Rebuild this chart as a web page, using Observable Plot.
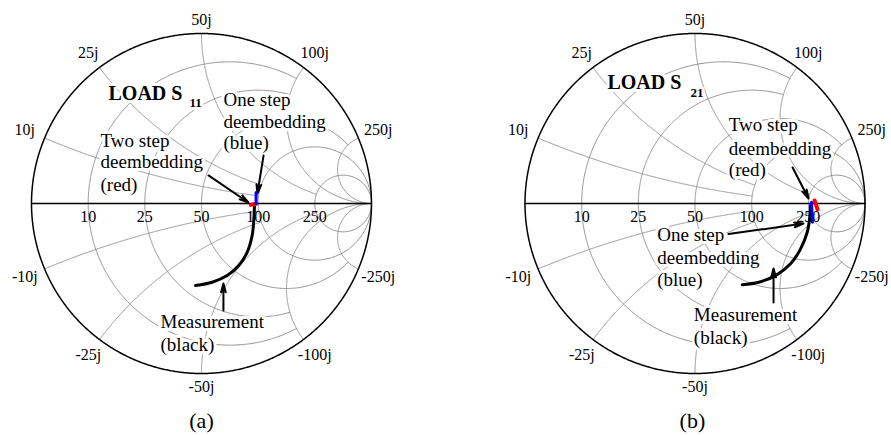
<!DOCTYPE html>
<html><head><meta charset="utf-8">
<script src="https://cdn.jsdelivr.net/npm/d3@7"></script>
<script src="https://cdn.jsdelivr.net/npm/@observablehq/plot@0.6"></script>
<style>body{margin:0;background:#fff}#chart{width:891px;height:435px}</style>
</head><body><div id="chart"></div>
<script>
// ---------- data ----------
const Z0 = 50;
const resistanceTicks = [10, 25, 50, 100, 250];          // ohms
const reactanceTicks = [10, 25, 50, 100, 250];           // ohms (±j)
const rCircleMaxX = [2, 2, 5, Infinity, Infinity];       // normalized |x| limit of each r circle
const xArcMaxR = [2, 2, 5, Infinity, Infinity];          // normalized r limit of each x arc
const panelLabels = ["(a)", "(b)"];
const titleMain = ["LOAD S", "LOAD S"];
const titleSub = ["11", "21"];

// reflection coefficient (re, im)
const measA_re = [0.312, 0.308, 0.298, 0.269, 0.219, 0.151, 0.063, -0.035];
const measA_im = [-0.006, -0.090, -0.188, -0.286, -0.365, -0.424, -0.463, -0.482];
const oneA_re = [0.321, 0.321];
const oneA_im = [0.065, 0.000];
const twoA_re = [0.290, 0.322];
const twoA_im = [-0.008, -0.002];

const measB_re = [0.679, 0.674, 0.660, 0.621, 0.562, 0.474, 0.375, 0.278];
const measB_im = [-0.012, -0.090, -0.169, -0.267, -0.355, -0.424, -0.463, -0.478];
const oneB_re = [0.685, 0.691];
const oneB_im = [0.008, -0.110];
const twoB_re = [0.703, 0.721];
const twoB_im = [0.018, -0.035];

// ---------- layout ----------
const W = 891, H = 435, R = 170, cxA = 201, cxB = 694.5, cy = 203;
const off = {a: 0, b: (cxB - cxA) / R};
const FONT = "'Liberation Serif', 'Times New Roman', serif";

// Smith chart grid geometry
function gamma(r, x) {
  const d = (r + 1) ** 2 + x * x;
  return [(r * r + x * x - 1) / d, (2 * x) / d];
}
const grid = [];
const frame = [];
for (const chart of ["a", "b"]) {
  resistanceTicks.forEach((R0, i) => {
    const r = R0 / Z0, um = Math.atan(rCircleMaxX[i]), N = 600;
    for (let k = 0; k <= N; k++) {
      const u = -um + (2 * um * k) / N;
      const [gr, gi] = gamma(r, Math.tan(u));
      grid.push({chart, id: chart + "r" + i, gr, gi});
    }
  });
  reactanceTicks.forEach((X0, i) => {
    const x = X0 / Z0, um = Math.atan(xArcMaxR[i]), N = 600;
    for (const s of [1, -1]) {
      for (let k = 0; k <= N; k++) {
        const u = (um * k) / N;
        const [gr, gi] = gamma(Math.tan(u), s * x);
        grid.push({chart, id: chart + "x" + i + s, gr, gi});
      }
    }
  });
  for (let k = 0; k <= 1000; k++) {
    const u = -Math.PI / 2 + (Math.PI * k) / 1000;
    const [gr, gi] = gamma(0, Math.tan(u));
    frame.push({chart, id: chart + "o", gr, gi});
  }
  frame.push({chart, id: chart + "axis", gr: -1, gi: 0}, {chart, id: chart + "axis", gr: 1, gi: 0});
}

// tick labels
const tickText = [];
for (const chart of ["a", "b"]) {
  resistanceTicks.forEach((R0) => {
    const r = R0 / Z0;
    tickText.push({chart, gr: (r - 1) / (r + 1), gi: -18 / R, text: String(R0), anchor: "bottom"});
  });
  reactanceTicks.forEach((X0) => {
    const x = X0 / Z0;
    for (const s of [1, -1]) {
      const [er, ei] = gamma(0, s * x);
      const phi = Math.atan2(ei, er);
      const rho = 1.08 + 0.05 * Math.abs(Math.cos(phi));
      tickText.push({chart, gr: rho * Math.cos(phi), gi: rho * Math.sin(phi), text: (s < 0 ? "-" : "") + X0 + "j", anchor: "middle"});
    }
  });
}

// curves
function series(chart, re, im) { return re.map((v, i) => ({chart, gr: v, gi: im[i]})); }
const meas = [...series("a", measA_re, measA_im), ...series("b", measB_re, measB_im)];
const blue = [...series("a", oneA_re, oneA_im), ...series("b", oneB_re, oneB_im)];
const red = [...series("a", twoA_re, twoA_im), ...series("b", twoB_re, twoB_im)];

// annotations (Γ-plane positions)
const notes = [
  {chart: "a", gr: 0.129, gi: 0.576, text: "One step"},
  {chart: "a", gr: 0.129, gi: 0.447, text: "deembedding"},
  {chart: "a", gr: 0.129, gi: 0.318, text: "(blue)"},
  {chart: "a", gr: -0.594, gi: 0.335, text: "Two step"},
  {chart: "a", gr: -0.594, gi: 0.206, text: "deembedding"},
  {chart: "a", gr: -0.594, gi: 0.076, text: "(red)"},
  {chart: "a", gr: -0.241, gi: -0.735, text: "Measurement"},
  {chart: "a", gr: -0.241, gi: -0.865, text: "(black)"},
  {chart: "b", gr: 0.199, gi: 0.424, text: "Two step"},
  {chart: "b", gr: 0.199, gi: 0.288, text: "deembedding"},
  {chart: "b", gr: 0.199, gi: 0.159, text: "(red)"},
  {chart: "b", gr: -0.222, gi: -0.218, text: "One step"},
  {chart: "b", gr: -0.222, gi: -0.353, text: "deembedding"},
  {chart: "b", gr: -0.222, gi: -0.488, text: "(blue)"},
  {chart: "b", gr: -0.007, gi: -0.694, text: "Measurement"},
  {chart: "b", gr: -0.007, gi: -0.824, text: "(black)"}
];
const titles = [
  {chart: "a", gr: -0.547, gi: 0.606, text: titleMain[0], size: 20},
  {chart: "a", gr: -0.071, gi: 0.565, text: titleSub[0], size: 13},
  {chart: "b", gr: -0.515, gi: 0.676, text: titleMain[1], size: 20},
  {chart: "b", gr: -0.026, gi: 0.629, text: titleSub[1], size: 13}
];
const arrows = [
  {chart: "a", x1: 0.041, y1: 0.165, x2: 0.276, y2: 0.006},
  {chart: "a", x1: 0.365, y1: 0.282, x2: 0.329, y2: 0.059},
  {chart: "a", x1: 0.129, y1: -0.629, x2: 0.129, y2: -0.471},
  {chart: "b", x1: 0.574, y1: 0.212, x2: 0.668, y2: 0.029},
  {chart: "b", x1: 0.197, y1: -0.180, x2: 0.638, y2: -0.118},
  {chart: "b", x1: 0.462, y1: -0.582, x2: 0.462, y2: -0.382}
];
const panels = [
  {chart: "a", gr: 0, gi: -224 / R, text: panelLabels[0]},
  {chart: "b", gr: -0.015, gi: -224 / R, text: panelLabels[1]}
];

const X = (d) => d.gr + off[d.chart];
const plot = Plot.plot({
  width: W, height: H, margin: 0,
  x: {domain: [-cxA / R, (W - cxA) / R], axis: null},
  y: {domain: [-(H - cy) / R, cy / R], axis: null},
  style: {background: "white", fontFamily: FONT},
  marks: [
    Plot.line(grid, {x: X, y: "gi", z: "id", stroke: "#858585", strokeWidth: 0.9}),
    Plot.line(frame, {x: X, y: "gi", z: "id", stroke: "black", strokeWidth: 1.5}),
    Plot.text(tickText.filter(d => d.anchor === "bottom"), {x: X, y: "gi", text: "text", lineAnchor: "bottom", textAnchor: "middle", fontSize: 16, fontFamily: FONT, fill: "black"}),
    Plot.text(tickText.filter(d => d.anchor === "middle"), {x: X, y: "gi", text: "text", lineAnchor: "middle", textAnchor: "middle", fontSize: 16, fontFamily: FONT, fill: "black"}),
    Plot.text(notes, {x: X, y: "gi", text: "text", lineAnchor: "bottom", textAnchor: "start", fontSize: 19, fontFamily: FONT, fill: "black", stroke: "white", strokeWidth: 6, paintOrder: "stroke"}),
    Plot.text(titles, {x: X, y: "gi", text: "text", lineAnchor: "bottom", textAnchor: "start", fontSize: (d) => d.size, fontWeight: "bold", fontFamily: FONT, fill: "black", stroke: "white", strokeWidth: 6, paintOrder: "stroke"}),
    Plot.text(panels, {x: X, y: "gi", text: "text", lineAnchor: "bottom", textAnchor: "middle", fontSize: 22, fontFamily: FONT, fill: "black"}),
    Plot.arrow(arrows, {x1: (d) => d.x1 + off[d.chart], y1: "y1", x2: (d) => d.x2 + off[d.chart], y2: "y2", stroke: "black", strokeWidth: 2, headLength: 7, headAngle: 30}),
    Plot.line(meas, {x: X, y: "gi", z: "chart", stroke: "black", strokeWidth: 3, curve: "catmull-rom"}),
    Plot.line(red, {x: X, y: "gi", z: "chart", stroke: "red", strokeWidth: 4, strokeLinecap: "round"}),
    Plot.line(blue, {x: X, y: "gi", z: "chart", stroke: "blue", strokeWidth: 3})
  ]
});
document.getElementById("chart").appendChild(plot);
</script></body></html>
